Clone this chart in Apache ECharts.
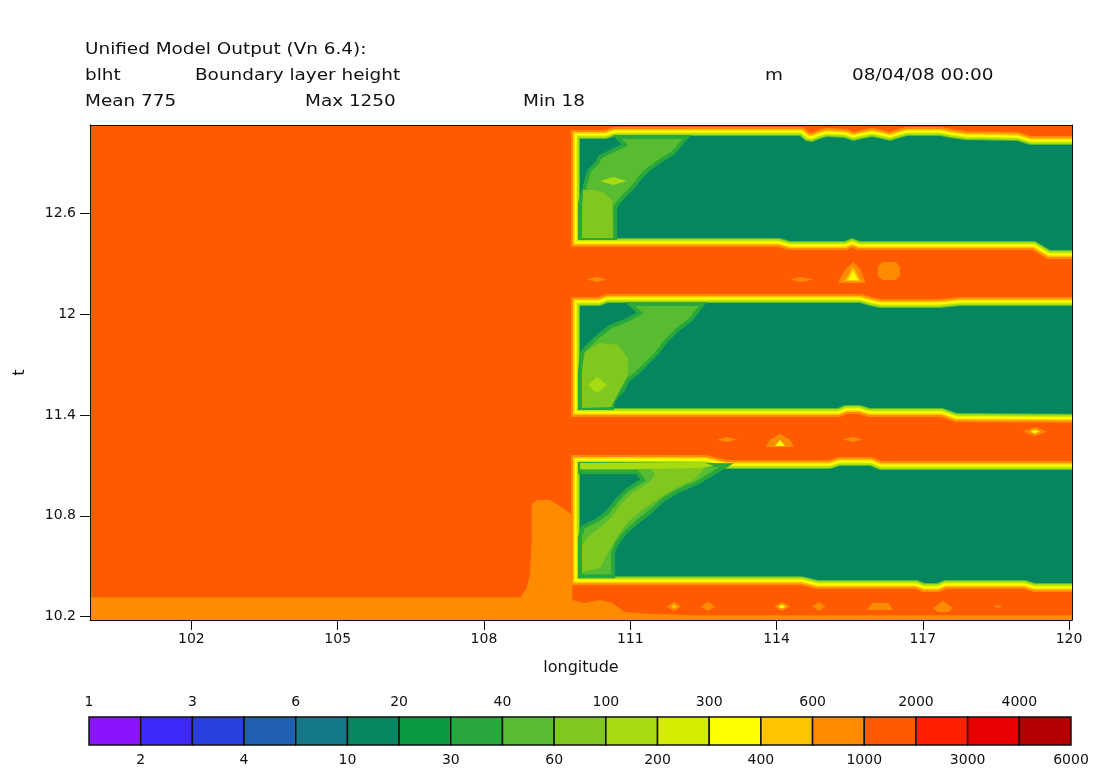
<!DOCTYPE html>
<html><head><meta charset="utf-8">
<script src="https://cdn.jsdelivr.net/npm/echarts@6/dist/echarts.min.js"></script>
<style>html,body{margin:0;padding:0;background:#fff}#chart{width:1102px;height:779px}</style>
</head><body><div id="chart"></div>
<script>
// ---------------- data ----------------
const LEVEL_BOUNDS = [1,2,3,4,6,10,20,30,40,60,100,200,300,400,600,1000,2000,3000,4000,6000];
const LEVEL_COLORS = ['#8c14fc','#3e28fa','#2a40dc','#1f60b0','#147888','#058560','#0a9840','#28a83c',
  '#58bc32','#80c820','#a8dc10','#d4ec00','#ffff00','#ffc400','#ff8c00','#ff5a00','#ff2000','#e80000','#b40000'];
const LON_TICKS = [102,105,108,111,114,117,120];
const T_TICKS = [10.2,10.8,11.4,12,12.6];
const HEADER_LINES = ['Unified Model Output (Vn 6.4):','blht','Boundary layer height','m','08/04/08 00:00','Mean 775','Max 1250','Min 18'];

// deep mixed layer everywhere by default (m)
const BASE_FIELD = [{value:1200, pts:[[99.9,10.10],[120.5,10.10],[120.5,13.2],[99.9,13.2]]}];
// 600-1000 m zones (coastal tongue and last hours)
const SHALLOW_ZONES = [{value:800, pts:[[99.9,10.316],[108.74,10.316],[108.88,10.370],[108.94,10.447],[108.98,10.656],[108.98,10.870],[109.10,10.894],[109.35,10.894],[109.56,10.858],[109.81,10.805],[109.81,10.299],[110.07,10.281],[110.38,10.299],[110.63,10.281],[110.89,10.227],[111.40,10.215],[112.43,10.209],[120.43,10.209],[120.43,10.10],[99.9,10.10]]}];
// shallow night-time sea boundary layer (10-20 m)
const SEA_BANDS = [
  {value:15, pts:[[109.97,13.043],[110.52,13.043],[110.69,13.061],[114.48,13.061],[114.60,13.031],[114.73,13.025],[114.89,13.043],[115.03,13.055],[115.40,13.049],[115.57,13.031],[115.75,13.043],[115.96,13.055],[116.16,13.043],[116.33,13.031],[116.53,13.049],[116.68,13.061],[117.35,13.061],[117.56,13.049],[117.86,13.037],[118.93,13.031],[119.20,13.007],[120.43,13.007],[120.43,12.382],[119.61,12.382],[119.30,12.436],[115.71,12.436],[115.55,12.453],[115.40,12.436],[114.28,12.436],[114.07,12.453],[109.97,12.453]]},
  {value:15, pts:[[109.97,12.049],[110.38,12.049],[110.54,12.067],[115.71,12.067],[115.92,12.049],[116.12,12.037],[117.35,12.037],[117.76,12.049],[120.43,12.049],[120.43,11.406],[117.70,11.412],[117.41,11.441],[115.92,11.441],[115.71,11.459],[115.40,11.459],[115.26,11.441],[109.97,11.441]]},
  {value:15, pts:[[109.97,11.108],[112.53,11.108],[112.98,11.078],[115.10,11.078],[115.30,11.096],[115.92,11.096],[116.12,11.072],[120.43,11.072],[120.43,10.400],[119.30,10.400],[119.10,10.418],[117.45,10.418],[117.29,10.400],[117.04,10.400],[116.88,10.418],[114.85,10.418],[114.52,10.441],[109.97,10.441]]}
];
// contour levels crossed at the edge of each sea band, outermost first
const BAND_EDGE_VALUES = [800,500,350,250,150,50];
// near-coast wedges inside the sea bands
const COASTAL_WEDGES = [
  {value:50, pts:[[110.73,13.055],[112.16,13.055],[111.88,12.959],[111.55,12.900],[111.36,12.858],[111.20,12.811],[111.06,12.757],[110.85,12.697],[110.69,12.638],[110.69,12.453],[109.97,12.453],[109.97,12.662],[110.01,12.697],[110.11,12.811],[110.17,12.858],[110.32,12.900],[110.38,12.936],[110.58,12.965],[110.89,13.007]]},
  {value:50, pts:[[110.99,12.060],[112.49,12.060],[112.23,11.965],[111.96,11.906],[111.75,11.846],[111.55,11.769],[111.34,11.709],[111.14,11.650],[110.95,11.608],[110.85,11.549],[110.65,11.489],[110.63,11.441],[109.97,11.441],[109.97,11.656],[110.01,11.769],[110.11,11.805],[110.32,11.864],[110.58,11.924],[110.93,11.965],[111.20,12.007]]},
  {value:50, pts:[[109.97,11.108],[112.98,11.102],[112.64,11.043],[112.37,10.995],[112.02,10.953],[111.67,10.894],[111.40,10.822],[111.14,10.763],[110.89,10.697],[110.73,10.638],[110.65,10.584],[110.65,10.441],[109.97,10.441],[109.97,10.674],[110.03,10.733],[110.32,10.775],[110.52,10.817],[110.73,10.894],[110.93,10.953],[111.26,11.013],[111.14,11.060],[109.97,11.060]]}
];
const COASTAL_CORES = [
  {value:80, pts:[[110.03,12.739],[110.24,12.739],[110.44,12.727],[110.63,12.680],[110.65,12.453],[110.01,12.453]]},
  {value:150, pts:[[110.38,12.793],[110.65,12.816],[110.93,12.793],[110.65,12.769]]},
  {value:80, pts:[[110.07,11.775],[110.38,11.828],[110.75,11.816],[110.95,11.739],[110.95,11.638],[110.79,11.549],[110.61,11.447],[110.01,11.441],[110.01,11.668]]},
  {value:150, pts:[[110.13,11.578],[110.32,11.626],[110.52,11.578],[110.32,11.531]]},
  {value:80, pts:[[111.36,11.090],[112.55,11.090],[112.33,11.019],[111.86,10.953],[111.53,10.894],[111.22,10.828],[110.95,10.763],[110.75,10.686],[110.58,10.596],[110.38,10.489],[110.01,10.465],[110.01,10.626],[110.17,10.686],[110.42,10.739],[110.63,10.799],[110.83,10.876],[111.04,10.936],[111.40,11.001],[111.51,11.049]]},
  {value:150, pts:[[109.97,11.114],[112.53,11.114],[112.72,11.096],[112.40,11.084],[111.20,11.078],[109.97,11.078]]}
];
// isolated shallower cells inside the deep daytime bands
const CELL_SPOTS = [
  {value:800, pts:[[115.57,12.311],[115.73,12.263],[115.83,12.186],[115.26,12.186],[115.40,12.263]]},
  {value:500, pts:[[115.57,12.281],[115.73,12.197],[115.40,12.197]]},
  {value:350, pts:[[115.57,12.257],[115.67,12.203],[115.47,12.203]]},
  {value:800, pts:[[116.16,12.311],[116.45,12.311],[116.53,12.281],[116.53,12.227],[116.43,12.203],[116.18,12.203],[116.08,12.227],[116.08,12.281]]},
  {value:800, pts:[[110.11,12.206],[110.32,12.221],[110.52,12.206],[110.32,12.191]]},
  {value:800, pts:[[114.28,12.206],[114.50,12.221],[114.75,12.206],[114.50,12.191]]},
  {value:800, pts:[[112.78,11.254],[112.98,11.269],[113.19,11.254],[112.98,11.239]]},
  {value:800, pts:[[114.07,11.287],[114.28,11.251],[114.36,11.209],[113.78,11.209],[113.86,11.251]]},
  {value:350, pts:[[114.07,11.251],[114.17,11.215],[113.97,11.215]]},
  {value:800, pts:[[115.36,11.254],[115.57,11.269],[115.77,11.254],[115.57,11.239]]},
  {value:800, pts:[[119.05,11.302],[119.30,11.328],[119.55,11.302],[119.30,11.275]]},
  {value:350, pts:[[119.20,11.302],[119.30,11.313],[119.40,11.302],[119.30,11.290]]},
  {value:800, pts:[[111.75,10.260],[111.90,10.287],[112.04,10.260],[111.90,10.233]]},
  {value:500, pts:[[111.84,10.260],[111.90,10.272],[111.96,10.260],[111.90,10.248]]},
  {value:800, pts:[[112.45,10.260],[112.59,10.287],[112.74,10.260],[112.59,10.233]]},
  {value:800, pts:[[113.95,10.260],[114.11,10.287],[114.28,10.260],[114.11,10.233]]},
  {value:350, pts:[[114.03,10.260],[114.11,10.272],[114.19,10.260],[114.11,10.248]]},
  {value:800, pts:[[114.73,10.260],[114.87,10.287],[115.01,10.260],[114.87,10.233]]},
  {value:800, pts:[[115.96,10.281],[116.29,10.281],[116.39,10.239],[115.85,10.239]]},
  {value:800, pts:[[117.41,10.293],[117.62,10.251],[117.52,10.227],[117.31,10.227],[117.21,10.251]]},
  {value:800, pts:[[118.44,10.260],[118.54,10.269],[118.64,10.260],[118.54,10.251]]}
];

// ---------------- style ----------------
const RING_WIDTHS = [18,14,11,7,5,2];
const FONT = 'DejaVu Sans';
const INK = '#111';
const HEADER_POS = [[85,50],[85,76],[195,76],[765,76],[852,76],[85,102],[305,102],[523,102]];

function colorOf(v){
  for (let i = 0; i < LEVEL_COLORS.length; i++) {
    if (v >= LEVEL_BOUNDS[i] && v < LEVEL_BOUNDS[i+1]) return LEVEL_COLORS[i];
  }
  return LEVEL_COLORS[LEVEL_COLORS.length-1];
}

function polySeries(list, mode, extra){
  return {
    type:'custom', xAxisIndex:0, yAxisIndex:0, clip:true, silent:true,
    data: list.map((p,i)=>[p.pts[0][0], p.pts[0][1], i]),
    encode:{x:0, y:1},
    renderItem(params, api){
      const p = list[params.dataIndex];
      const points = p.pts.map(q => api.coord(q));
      if (mode === 'band') {
        const children = BAND_EDGE_VALUES.map((v,k)=>({
          type:'polygon', shape:{points},
          style:{fill:'none', stroke:colorOf(v), lineWidth:RING_WIDTHS[k], lineJoin:'miter'}
        }));
        children.push({type:'polygon', shape:{points}, style:{fill:colorOf(p.value), stroke:'none'}});
        return {type:'group', children};
      }
      const style = {fill:colorOf(p.value), stroke:'none'};
      if (extra && extra.edgeValue) { style.stroke = colorOf(extra.edgeValue); style.lineWidth = extra.edgeWidth; }
      return {type:'polygon', shape:{points}, style};
    }
  };
}

const chart = echarts.init(document.getElementById('chart'), null, {renderer:'canvas'});
const frameAxis = {axisLine:{show:true, onZero:false, lineStyle:{color:INK, width:1}}, axisTick:{show:false}, axisLabel:{show:false}, splitLine:{show:false}};

chart.setOption({
  animation:false,
  backgroundColor:'#ffffff',
  grid:[
    {left:90, top:125, width:982, height:495, containLabel:false},
    {left:89, top:717, width:982, height:28, containLabel:false}
  ],
  xAxis:[
    {gridIndex:0, type:'value', min:99.92, max:120.06, position:'bottom', z:10,
     axisLine:{show:true, onZero:false, lineStyle:{color:INK, width:1}},
     axisTick:{show:true, customValues:LON_TICKS, length:10, inside:false, lineStyle:{color:INK, width:1}},
     axisLabel:{customValues:LON_TICKS, formatter:v=>String(Math.round(v)), color:INK, fontSize:14, fontFamily:FONT, margin:12},
     splitLine:{show:false},
     name:'longitude', nameLocation:'middle', nameGap:40, nameTextStyle:{color:INK, fontSize:16, fontFamily:FONT}},
    Object.assign({gridIndex:0, type:'value', min:99.92, max:120.06, position:'top', z:10}, frameAxis),
    {gridIndex:1, type:'value', min:0, max:19, position:'bottom',
     axisLine:{show:false, onZero:false}, axisTick:{show:false}, splitLine:{show:false},
     axisLabel:{customValues:[1,3,5,7,9,11,13,15,17,19], formatter:v=>String(LEVEL_BOUNDS[Math.round(v)]), color:INK, fontSize:14, fontFamily:FONT, margin:8, showMinLabel:true, showMaxLabel:true}},
    {gridIndex:1, type:'value', min:0, max:19, position:'top',
     axisLine:{show:false, onZero:false}, axisTick:{show:false}, splitLine:{show:false},
     axisLabel:{customValues:[0,2,4,6,8,10,12,14,16,18], formatter:v=>String(LEVEL_BOUNDS[Math.round(v)]), color:INK, fontSize:14, fontFamily:FONT, margin:8, showMinLabel:true, showMaxLabel:true}}
  ],
  yAxis:[
    {gridIndex:0, type:'value', min:10.18, max:13.126, position:'left', z:10,
     axisLine:{show:true, onZero:false, lineStyle:{color:INK, width:1}},
     axisTick:{show:true, customValues:T_TICKS, length:10, inside:false, lineStyle:{color:INK, width:1}},
     axisLabel:{customValues:T_TICKS, formatter:v=>String(parseFloat(Number(v).toFixed(1))), color:INK, fontSize:14, fontFamily:FONT, margin:14},
     splitLine:{show:false},
     name:'t', nameLocation:'middle', nameGap:62, nameTextStyle:{color:INK, fontSize:16, fontFamily:FONT}},
    Object.assign({gridIndex:0, type:'value', min:10.18, max:13.126, position:'right', z:10}, frameAxis),
    {gridIndex:1, type:'value', min:0, max:1, show:false}
  ],
  graphic: HEADER_LINES.map((t,i)=>({
    type:'text', x:HEADER_POS[i][0], y:HEADER_POS[i][1], scaleX:1.15,
    style:{text:t, font:'16px "' + FONT + '"', fill:INK, verticalAlign:'middle', align:'left'}
  })),
  series:[
    polySeries(BASE_FIELD, 'fill'),
    polySeries(SHALLOW_ZONES, 'fill'),
    polySeries(SEA_BANDS, 'band'),
    polySeries(COASTAL_WEDGES, 'fill', {edgeValue:35, edgeWidth:4}),
    polySeries(COASTAL_CORES, 'fill'),
    polySeries(CELL_SPOTS, 'fill'),
    {
      type:'custom', xAxisIndex:2, yAxisIndex:2, silent:true,
      data: LEVEL_COLORS.map((c,i)=>[i,0]),
      encode:{x:0, y:1},
      renderItem(params, api){
        const i = params.dataIndex;
        const a = api.coord([i,1]), b = api.coord([i+1,0]);
        return {type:'rect', shape:{x:a[0], y:a[1], width:b[0]-a[0], height:b[1]-a[1]},
                style:{fill:LEVEL_COLORS[i], stroke:INK, lineWidth:1.5}};
      }
    }
  ]
});
</script></body></html>
